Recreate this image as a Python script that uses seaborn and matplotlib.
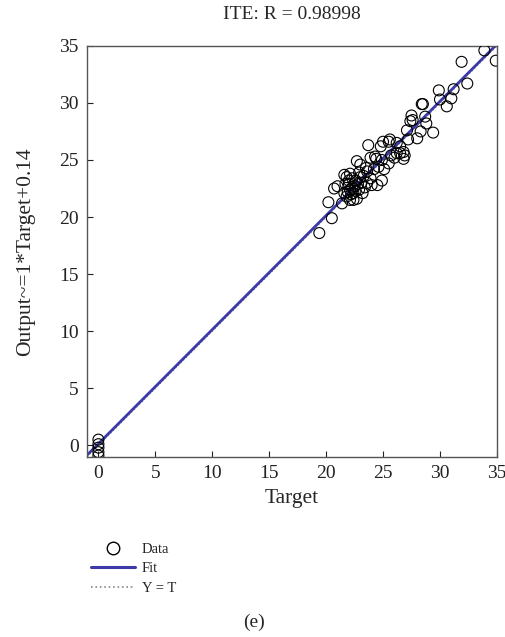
import matplotlib
matplotlib.use("Agg")
import matplotlib.pyplot as plt
import seaborn as sns
import numpy as np
import pandas as pd
from matplotlib.lines import Line2D

# ---- data ----
target = [0, 0, 0, 0, 0,
          19.4, 20.2, 20.5, 20.7, 21.0, 21.4, 21.6, 21.8, 21.8, 22.1,
          22.3, 22.6, 23.0, 22.1, 22.4, 22.9, 23.2, 22.1, 22.4, 22.7,
          21.7, 22.0, 22.5, 22.2, 22.8, 23.9, 24.0, 23.6, 23.6, 22.7,
          23.0, 23.7, 24.3, 24.9, 25.5, 24.8, 25.0, 25.5, 26.2, 26.5,
          26.8, 24.5, 24.9, 24.2, 23.3, 23.4, 24.6, 25.1, 25.7, 26.0,
          26.5, 26.8, 26.9, 26.2, 25.6, 27.2, 28.0, 28.3, 29.4, 27.1,
          27.4, 28.8, 28.7, 27.6, 27.5, 28.4, 28.5, 30.6, 30.0, 31.0,
          31.2, 29.9, 32.4, 31.9, 34.9, 33.9,
          22.3, 22.6, 22.0, 23.1, 21.6, 24.4, 23.9, 22.9, 21.9, 23.5]
output = [0.5, 0.1, -0.2, -0.6, -0.9,
          18.6, 21.3, 19.9, 22.5, 22.7, 21.2, 22.1, 21.8, 23.5, 23.8,
          23.4, 23.2, 23.5, 22.4, 22.1, 22.4, 22.1, 21.5, 21.5, 21.6,
          22.9, 22.9, 22.7, 22.0, 22.9, 23.4, 22.8, 23.0, 24.0, 24.9,
          24.6, 26.3, 25.3, 25.0, 24.7, 26.2, 26.6, 26.6, 26.5, 25.6,
          25.1, 22.8, 23.2, 24.2, 23.6, 22.6, 24.4, 24.2, 25.4, 25.2,
          26.2, 25.7, 25.4, 25.6, 26.8, 26.8, 26.9, 27.5, 27.4, 27.6,
          28.4, 28.2, 28.8, 28.5, 28.9, 29.9, 29.9, 29.7, 30.3, 30.4,
          31.2, 31.1, 31.7, 33.6, 33.7, 34.6,
          22.6, 22.3, 23.2, 23.0, 23.7, 25.1, 25.2, 23.9, 22.2, 24.3]
fit_slope = 1.0
fit_intercept = 0.14
line_x = [-1, 35]
x_ticks = [0, 5, 10, 15, 20, 25, 30, 35]
y_ticks = [0, 5, 10, 15, 20, 25, 30, 35]
title_text = "ITE: R = 0.98998"
x_label = "Target"
y_label = "Output~=1*Target+0.14"
legend_labels = ["Data", "Fit", "Y = T"]
caption = "(e)"

sns.set_theme(style="white")
plt.rcParams['font.family'] = ['Liberation Serif', 'DejaVu Serif']

fig = plt.figure(figsize=(5.06, 6.37), dpi=100)
ax = fig.add_axes([0.172, 0.283, 0.810, 0.645])

fit_color = "#3b3aa8"
lx = np.array(line_x, dtype=float)
df_line = pd.DataFrame({"x": lx, "fit": fit_slope * lx + fit_intercept, "yt": lx})
sns.lineplot(data=df_line, x="x", y="yt", ax=ax, color="#888888", linestyle=":", linewidth=1.0)
sns.lineplot(data=df_line, x="x", y="fit", ax=ax, color=fit_color, linewidth=2.0)

df = pd.DataFrame({"Target": target, "Output": output})
sns.scatterplot(data=df, x="Target", y="Output", ax=ax, marker="o", s=62,
                facecolors="none", edgecolor="black", linewidth=0.8, zorder=3)

ax.set_xlim(-1, 35)
ax.set_ylim(-1, 35)
ax.set_xticks(x_ticks)
ax.set_yticks(y_ticks)
ax.tick_params(direction="in", length=4, width=0.8, colors="#222222",
               labelsize=14, pad=6, bottom=True, left=True, top=False, right=False)
for sp in ax.spines.values():
    sp.set_color("#555555")
    sp.set_linewidth(1.0)

ax.set_title(title_text, fontsize=14, pad=19)
ax.set_xlabel(x_label, fontsize=15.5, labelpad=5)
ax.set_ylabel(y_label, fontsize=15.5, labelpad=17)

handles = [
    Line2D([], [], marker="o", linestyle="none", markerfacecolor="none",
           markeredgecolor="black", markersize=9, markeredgewidth=1.0),
    Line2D([], [], color=fit_color, linewidth=2.2),
    Line2D([], [], color="#888888", linestyle=":", linewidth=1.2),
]
fig.legend(handles, legend_labels, loc="upper left", bbox_to_anchor=(0.168, 0.157),
           frameon=False, fontsize=10.5, handlelength=3.0, handletextpad=0.5,
           labelspacing=0.42, borderaxespad=0)

fig.text(0.502, 0.023, caption, ha="center", va="center", fontsize=14)

fig.savefig("out.png", dpi=100)
